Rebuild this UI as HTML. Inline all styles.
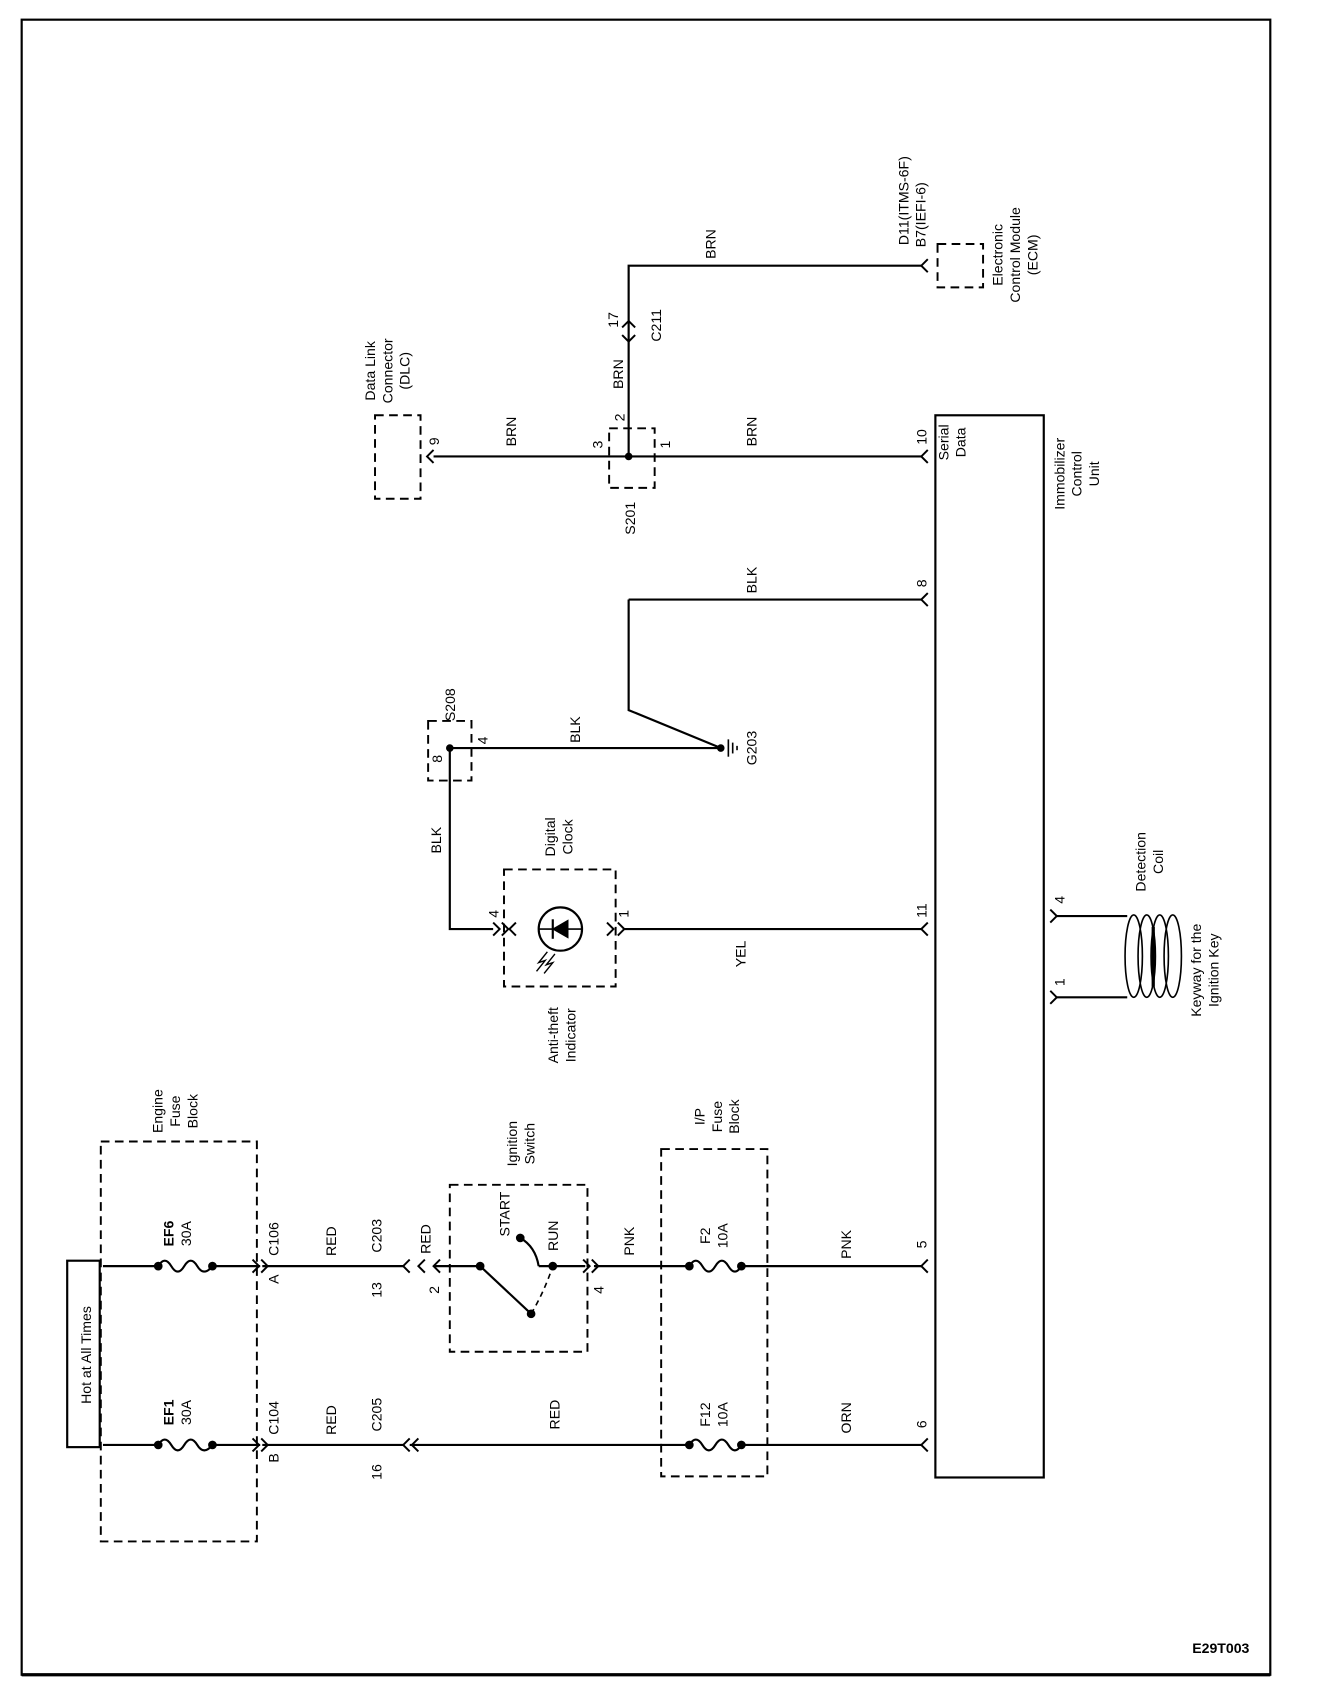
<!DOCTYPE html>
<html><head><meta charset="utf-8"><style>
html,body{margin:0;padding:0;background:#fff;}
svg{display:block;}
text{font-family:"Liberation Sans",Arial,sans-serif;font-size:13px;fill:#000;}
</style></head><body>
<svg width="1344" height="1702" viewBox="0 0 1240 1570" xmlns="http://www.w3.org/2000/svg">
<g fill="none" stroke="#000">
<!-- frame -->
<rect x="20" y="18" width="1152" height="1527" stroke-width="2"/>
<line x1="20" y1="1545" x2="1172" y2="1545" stroke-width="3"/>
<!-- dashed boxes -->
<g stroke-dasharray="8,5" stroke-width="1.8">
<rect x="93" y="1053" width="144" height="369"/>
<rect x="415" y="1093" width="127" height="154"/>
<rect x="610" y="1060" width="98" height="302"/>
<rect x="346" y="383" width="42" height="77"/>
<rect x="562" y="395" width="42" height="55"/>
<rect x="865" y="225" width="42" height="40"/>
<rect x="395" y="665" width="40" height="55"/>
<rect x="465" y="802" width="103" height="108"/>
</g>
<!-- Hot at all times box -->
<rect x="62" y="1163" width="30" height="172" stroke-width="2"/>
<!-- ICU -->
<rect x="863" y="383" width="100" height="980" stroke-width="2"/>
<!-- wires -->
<g stroke-width="2">
<polyline points="95,1168 146,1168"/>
<path d="M146,1168 q6,-10 12,0 t12,0 t12,0 t14,0"/>
<polyline points="196,1168 240,1168"/>
<polyline points="242,1168 372,1168"/>
<polyline points="400,1168 443,1168"/>
<polyline points="443,1168 490,1212"/>
<path d="M480,1142 q14,8 17,26"/>
<polyline points="497,1168 540,1168"/>
<polyline points="548,1168 636,1168"/>
<path d="M636,1168 q6,-10 12,0 t12,0 t12,0 t12,0"/>
<polyline points="684,1168 850,1168"/>

<polyline points="95,1333 146,1333"/>
<path d="M146,1333 q6,-10 12,0 t12,0 t12,0 t14,0"/>
<polyline points="196,1333 240,1333"/>
<polyline points="242,1333 372,1333"/>
<polyline points="378,1333 636,1333"/>
<path d="M636,1333 q6,-10 12,0 t12,0 t12,0 t12,0"/>
<polyline points="684,1333 850,1333"/>

<polyline points="400,421 850,421"/>
<polyline points="580,421 580,245 850,245"/>
<polyline points="580,553 850,553"/>
<polyline points="580,553 580,655 665,690"/>
<polyline points="415,690 665,690"/>
<polyline points="415,690 415,857 455,857"/>
<polyline points="575,857 850,857"/>
<polyline points="975,845 1040,845"/>
<polyline points="975,920 1040,920"/>
</g>
<path d="M490,1212 q12,-20 20,-44" stroke-dasharray="5,4" stroke-width="1.5"/>
<!-- chevrons -->
<g stroke-width="1.8">
<path d="M233,1162 l6,6 l-6,6 M241,1162 l6,6 l-6,6"/>
<path d="M233,1327 l6,6 l-6,6 M241,1327 l6,6 l-6,6"/>
<path d="M378,1162 l-6,6 l6,6 M392,1162 l-6,6 l6,6 M406,1162 l-6,6 l6,6"/>
<path d="M378,1327 l-6,6 l6,6 M386,1327 l-6,6 l6,6"/>
<path d="M538,1162 l6,6 l-6,6 M546,1162 l6,6 l-6,6"/>
<g>
<path d="M856,1162 l-6,6 l6,6"/><path d="M856,1327 l-6,6 l6,6"/>
<path d="M856,415 l-6,6 l6,6"/><path d="M856,239 l-6,6 l6,6"/>
<path d="M856,547 l-6,6 l6,6"/><path d="M856,851 l-6,6 l6,6"/>
<path d="M400,415 l-6,6 l6,6"/>
<path d="M975,839 l6,6 l-6,6" transform="translate(-6,0)"/>
<path d="M975,914 l6,6 l-6,6" transform="translate(-6,0)"/>
<path d="M574,302 l6,-6 l6,6"/>
<path d="M574,309 l6,6 l6,-6"/>
<path d="M455,851 l6,6 l-6,6 M463,851 l6,6 l-6,6" transform="translate(0,0)"/>
<path d="M476,851 l-6,6 l6,6 M560,851 l6,6 l-6,6 M570,851 l6,6 l-6,6"/>
</g>
</g>
<!-- clock -->
<circle cx="517" cy="857" r="20" stroke-width="2"/>
<line x1="497" y1="857" x2="537" y2="857" stroke-width="1.5"/>
<path d="M510,857 l14,-8 v16 z" fill="#000"/>
<line x1="510" y1="848" x2="510" y2="866" stroke-width="2"/>
<path d="M505,878 l-8,10 l6,-2 l-8,10 M512,880 l-8,10 l6,-2 l-8,10" stroke-width="1.3"/>
<!-- ground -->
<line x1="672" y1="682" x2="672" y2="698" stroke-width="1.5"/>
<line x1="676" y1="685" x2="676" y2="695" stroke-width="1.5"/>
<line x1="680" y1="688" x2="680" y2="692" stroke-width="1.5"/>
<!-- coil -->
<g stroke-width="1.5">
<ellipse cx="1046" cy="882" rx="8" ry="38"/>
<ellipse cx="1058" cy="882" rx="8" ry="38"/>
<ellipse cx="1070" cy="882" rx="8" ry="38"/>
<ellipse cx="1082" cy="882" rx="8" ry="38"/>
<line x1="1064" y1="855" x2="1064" y2="910" stroke-width="3"/>
</g>
</g>
<!-- dots -->
<g fill="#000">
<circle cx="146" cy="1168" r="4"/><circle cx="196" cy="1168" r="4"/>
<circle cx="146" cy="1333" r="4"/><circle cx="196" cy="1333" r="4"/>
<circle cx="636" cy="1168" r="4"/><circle cx="684" cy="1168" r="4"/>
<circle cx="636" cy="1333" r="4"/><circle cx="684" cy="1333" r="4"/>
<circle cx="443" cy="1168" r="4"/><circle cx="490" cy="1212" r="4"/>
<circle cx="480" cy="1142" r="4"/><circle cx="510" cy="1168" r="4"/>
<circle cx="580" cy="421" r="3.5"/><circle cx="415" cy="690" r="3.5"/><circle cx="665" cy="690" r="3.5"/>
</g>
<!-- labels (rotated) -->
<g>
<text transform="translate(84,1250) rotate(-90)" text-anchor="middle" font-size="14">Hot at All Times</text>
<text transform="translate(160,1138) rotate(-90)" text-anchor="middle" font-weight="bold">EF6</text>
<text transform="translate(176,1138) rotate(-90)" text-anchor="middle">30A</text>
<text transform="translate(160,1303) rotate(-90)" text-anchor="middle" font-weight="bold">EF1</text>
<text transform="translate(176,1303) rotate(-90)" text-anchor="middle">30A</text>
<text transform="translate(150,1025) rotate(-90)" text-anchor="middle">Engine</text>
<text transform="translate(166,1025) rotate(-90)" text-anchor="middle">Fuse</text>
<text transform="translate(182,1025) rotate(-90)" text-anchor="middle">Block</text>
<text transform="translate(257,1143) rotate(-90)" text-anchor="middle">C106</text>
<text transform="translate(257,1180) rotate(-90)" text-anchor="middle">A</text>
<text transform="translate(257,1308) rotate(-90)" text-anchor="middle">C104</text>
<text transform="translate(257,1345) rotate(-90)" text-anchor="middle">B</text>
<text transform="translate(310,1145) rotate(-90)" text-anchor="middle">RED</text>
<text transform="translate(310,1310) rotate(-90)" text-anchor="middle">RED</text>
<text transform="translate(352,1140) rotate(-90)" text-anchor="middle">C203</text>
<text transform="translate(352,1190) rotate(-90)" text-anchor="middle">13</text>
<text transform="translate(352,1305) rotate(-90)" text-anchor="middle">C205</text>
<text transform="translate(352,1358) rotate(-90)" text-anchor="middle">16</text>
<text transform="translate(397,1143) rotate(-90)" text-anchor="middle">RED</text>
<text transform="translate(405,1190) rotate(-90)" text-anchor="middle">2</text>
<text transform="translate(470,1120) rotate(-90)" text-anchor="middle">START</text>
<text transform="translate(515,1140) rotate(-90)" text-anchor="middle">RUN</text>
<text transform="translate(477,1055) rotate(-90)" text-anchor="middle">Ignition</text>
<text transform="translate(493,1055) rotate(-90)" text-anchor="middle">Switch</text>
<text transform="translate(557,1190) rotate(-90)" text-anchor="middle">4</text>
<text transform="translate(585,1145) rotate(-90)" text-anchor="middle">PNK</text>
<text transform="translate(516,1305) rotate(-90)" text-anchor="middle">RED</text>
<text transform="translate(655,1140) rotate(-90)" text-anchor="middle">F2</text>
<text transform="translate(671,1140) rotate(-90)" text-anchor="middle">10A</text>
<text transform="translate(655,1305) rotate(-90)" text-anchor="middle">F12</text>
<text transform="translate(671,1305) rotate(-90)" text-anchor="middle">10A</text>
<text transform="translate(650,1030) rotate(-90)" text-anchor="middle">I/P</text>
<text transform="translate(666,1030) rotate(-90)" text-anchor="middle">Fuse</text>
<text transform="translate(682,1030) rotate(-90)" text-anchor="middle">Block</text>
<text transform="translate(785,1148) rotate(-90)" text-anchor="middle">PNK</text>
<text transform="translate(785,1308) rotate(-90)" text-anchor="middle">ORN</text>
<text transform="translate(855,1148) rotate(-90)" text-anchor="middle">5</text>
<text transform="translate(855,1314) rotate(-90)" text-anchor="middle">6</text>
<text transform="translate(855,840) rotate(-90)" text-anchor="middle">11</text>
<text transform="translate(855,538) rotate(-90)" text-anchor="middle">8</text>
<text transform="translate(855,403) rotate(-90)" text-anchor="middle">10</text>
<text transform="translate(875,408) rotate(-90)" text-anchor="middle">Serial</text>
<text transform="translate(891,408) rotate(-90)" text-anchor="middle">Data</text>
<text transform="translate(982,437) rotate(-90)" text-anchor="middle">Immobilizer</text>
<text transform="translate(998,437) rotate(-90)" text-anchor="middle">Control</text>
<text transform="translate(1014,437) rotate(-90)" text-anchor="middle">Unit</text>
<text transform="translate(688,880) rotate(-90)" text-anchor="middle">YEL</text>
<text transform="translate(515,955) rotate(-90)" text-anchor="middle">Anti-theft</text>
<text transform="translate(531,955) rotate(-90)" text-anchor="middle">Indicator</text>
<text transform="translate(512,772) rotate(-90)" text-anchor="middle">Digital</text>
<text transform="translate(528,772) rotate(-90)" text-anchor="middle">Clock</text>
<text transform="translate(460,843) rotate(-90)" text-anchor="middle">4</text>
<text transform="translate(580,843) rotate(-90)" text-anchor="middle">1</text>
<text transform="translate(407,775) rotate(-90)" text-anchor="middle">BLK</text>
<text transform="translate(408,700) rotate(-90)" text-anchor="middle">8</text>
<text transform="translate(450,683) rotate(-90)" text-anchor="middle">4</text>
<text transform="translate(420,650) rotate(-90)" text-anchor="middle">S208</text>
<text transform="translate(535,673) rotate(-90)" text-anchor="middle">BLK</text>
<text transform="translate(698,690) rotate(-90)" text-anchor="middle">G203</text>
<text transform="translate(698,535) rotate(-90)" text-anchor="middle">BLK</text>
<text transform="translate(698,398) rotate(-90)" text-anchor="middle">BRN</text>
<text transform="translate(476,398) rotate(-90)" text-anchor="middle">BRN</text>
<text transform="translate(405,407) rotate(-90)" text-anchor="middle">9</text>
<text transform="translate(346,342) rotate(-90)" text-anchor="middle">Data Link</text>
<text transform="translate(362,342) rotate(-90)" text-anchor="middle">Connector</text>
<text transform="translate(378,342) rotate(-90)" text-anchor="middle">(DLC)</text>
<text transform="translate(556,410) rotate(-90)" text-anchor="middle">3</text>
<text transform="translate(576,385) rotate(-90)" text-anchor="middle">2</text>
<text transform="translate(618,410) rotate(-90)" text-anchor="middle">1</text>
<text transform="translate(586,478) rotate(-90)" text-anchor="middle">S201</text>
<text transform="translate(575,345) rotate(-90)" text-anchor="middle">BRN</text>
<text transform="translate(570,295) rotate(-90)" text-anchor="middle">17</text>
<text transform="translate(610,300) rotate(-90)" text-anchor="middle">C211</text>
<text transform="translate(660,225) rotate(-90)" text-anchor="middle">BRN</text>
<text transform="translate(838,185) rotate(-90)" text-anchor="middle">D11(ITMS-6F)</text>
<text transform="translate(854,198) rotate(-90)" text-anchor="middle">B7(IEFI-6)</text>
<text transform="translate(925,235) rotate(-90)" text-anchor="middle">Electronic</text>
<text transform="translate(941,235) rotate(-90)" text-anchor="middle">Control Module</text>
<text transform="translate(957,235) rotate(-90)" text-anchor="middle">(ECM)</text>
<text transform="translate(982,830) rotate(-90)" text-anchor="middle">4</text>
<text transform="translate(982,906) rotate(-90)" text-anchor="middle">1</text>
<text transform="translate(1057,795) rotate(-90)" text-anchor="middle">Detection</text>
<text transform="translate(1073,795) rotate(-90)" text-anchor="middle">Coil</text>
<text transform="translate(1108,895) rotate(-90)" text-anchor="middle">Keyway for the</text>
<text transform="translate(1124,895) rotate(-90)" text-anchor="middle">Ignition Key</text>
</g>
<text x="1100" y="1525" font-size="11" font-weight="bold">E29T003</text>
</svg>
</body></html>
